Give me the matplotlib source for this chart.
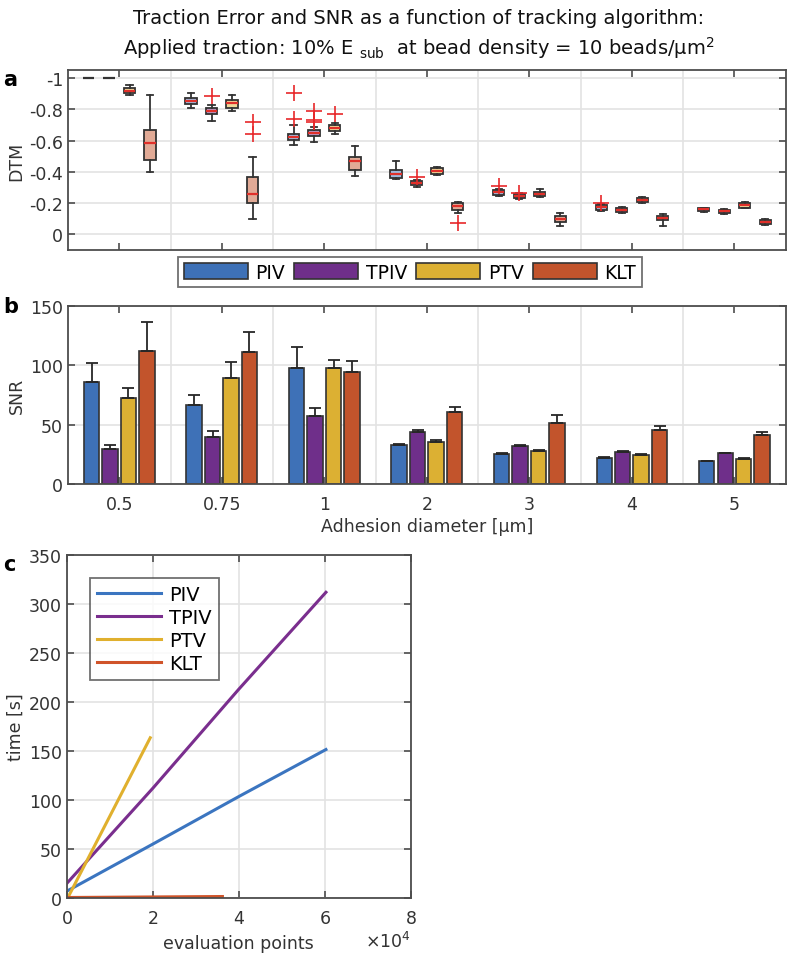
import matplotlib
matplotlib.use('Agg')
import matplotlib.pyplot as plt
import matplotlib.colors as mcolors
from matplotlib.ticker import ScalarFormatter

import numpy as np

plt.rcParams['font.family'] = ['DejaVu Sans']
plt.rcParams['axes.unicode_minus'] = False
plt.rcParams['mathtext.fontset'] = 'dejavusans'

# Algorithms and adhesion sizes
algorithms = ['PIV', 'TPIV', 'PTV', 'KLT']
colors = ['#3e71b7', '#6f2f8a', '#dcb033', '#c2542c']
diameters = ['0.5', '0.75', '1', '2', '3', '4', '5']

# Panel a: DTM box statistics, one row per diameter, columns PIV, TPIV, PTV, KLT
dtm_med = [[-1.0, -1.0, -0.918, -0.583],
           [-0.853, -0.788, -0.842, -0.258],
           [-0.624, -0.650, -0.679, -0.468],
           [-0.385, -0.331, -0.406, -0.182],
           [-0.269, -0.246, -0.261, -0.100],
           [-0.173, -0.158, -0.220, -0.104],
           [-0.160, -0.147, -0.186, -0.081]]
dtm_q1 = [[-1.0, -1.0, -0.935, -0.667],
          [-0.870, -0.806, -0.859, -0.367],
          [-0.643, -0.669, -0.697, -0.496],
          [-0.410, -0.344, -0.425, -0.199],
          [-0.282, -0.261, -0.274, -0.117],
          [-0.186, -0.171, -0.233, -0.117],
          [-0.169, -0.156, -0.199, -0.094]]
dtm_q3 = [[-1.0, -1.0, -0.903, -0.474],
          [-0.835, -0.769, -0.810, -0.203],
          [-0.605, -0.631, -0.660, -0.415],
          [-0.361, -0.314, -0.389, -0.156],
          [-0.254, -0.233, -0.246, -0.081],
          [-0.158, -0.145, -0.207, -0.090],
          [-0.150, -0.137, -0.171, -0.069]]
dtm_lo = [[-1.0, -1.0, -0.955, -0.893],
          [-0.906, -0.825, -0.891, -0.496],
          [-0.697, -0.684, -0.712, -0.566],
          [-0.470, -0.350, -0.434, -0.210],
          [-0.290, -0.263, -0.290, -0.137],
          [-0.195, -0.176, -0.240, -0.133],
          [-0.172, -0.160, -0.205, -0.100]]
dtm_hi = [[-1.0, -1.0, -0.893, -0.400],
          [-0.806, -0.724, -0.788, -0.100],
          [-0.571, -0.594, -0.641, -0.376],
          [-0.353, -0.305, -0.383, -0.139],
          [-0.248, -0.228, -0.239, -0.053],
          [-0.152, -0.140, -0.200, -0.053],
          [-0.146, -0.133, -0.166, -0.062]]
dtm_fliers = [[[], [], [], []],
              [[], [-0.887], [], [-0.716, -0.643]],
              [[-0.902, -0.737], [-0.790, -0.731, -0.716], [-0.769], []],
              [[], [-0.367], [], [-0.075]],
              [[-0.310], [-0.267], [], []],
              [[-0.203], [], [], []],
              [[], [], [], []]]

# Panel b: SNR mean and upper error, columns PIV, TPIV, PTV, KLT
snr_mean = [[85.7, 29.0, 72.6, 111.7],
            [66.7, 39.6, 89.0, 111.1],
            [97.7, 57.2, 97.7, 94.4],
            [32.7, 44.1, 34.9, 60.6],
            [24.8, 31.6, 27.9, 51.1],
            [21.8, 26.8, 24.3, 45.5],
            [19.3, 25.7, 20.9, 41.0]]
snr_err = [[15.9, 4.0, 7.8, 24.5],
           [8.4, 5.1, 14.0, 16.5],
           [17.6, 6.7, 7.0, 9.2],
           [1.3, 1.1, 1.7, 4.2],
           [0.9, 1.3, 0.8, 7.3],
           [0.8, 0.8, 0.8, 3.4],
           [0.3, 0.6, 0.6, 2.8]]

# Panel c: computation time vs number of evaluation points
piv_pts = [0, 20000, 40000, 60300]
piv_time = [7, 55, 103.5, 151.5]
tpiv_pts = [0, 20000, 40000, 60300]
tpiv_time = [15, 112, 213, 312]
ptv_pts = [300, 19400]
ptv_time = [1, 163.5]
klt_pts = [0, 36200]
klt_time = [0.5, 1.5]

TEXT = '#333333'
SPINE = '#4d4d4d'
GRID = '#e3e3e3'
FS = 12.5


def style_axes(ax):
    for sp in ax.spines.values():
        sp.set_color(SPINE)
        sp.set_linewidth(1.3)
    ax.tick_params(which='major', direction='in', length=5, width=1.2,
                   color=SPINE, labelcolor=TEXT, labelsize=FS,
                   top=True, right=True)
    ax.set_axisbelow(True)


def group_axes(ax):
    ax.set_xlim(0.5, 7.5)
    ax.set_xticks(np.arange(1, 8))
    ax.set_xticks(np.arange(1.5, 7.5), minor=True)
    ax.tick_params(which='minor', length=0)
    ax.grid(True, which='minor', axis='x', color=GRID, lw=1.2)
    ax.grid(True, which='major', axis='y', color=GRID, lw=1.2)


def draw_dtm(ax):
    offsets = [-0.3, -0.1, 0.1, 0.3]
    for g in range(len(diameters)):
        stats = []
        for k in range(len(algorithms)):
            stats.append(dict(med=dtm_med[g][k], q1=dtm_q1[g][k],
                              q3=dtm_q3[g][k], whislo=dtm_lo[g][k],
                              whishi=dtm_hi[g][k],
                              fliers=dtm_fliers[g][k]))
        pos = [g + 1 + o for o in offsets]
        art = ax.bxp(stats, positions=pos, widths=0.11, capwidths=0.06,
                     patch_artist=True, manage_ticks=False,
                     boxprops=dict(edgecolor='#333333', lw=1.3),
                     medianprops=dict(color='#e0302a', lw=1.6),
                     whiskerprops=dict(color='#333333', lw=1.3),
                     capprops=dict(color='#333333', lw=1.3),
                     flierprops=dict(marker='+', markeredgecolor='#e8282a',
                                     markersize=12, mew=1.2))
        for box, col in zip(art['boxes'], colors):
            rgb = np.array(mcolors.to_rgb(col))
            box.set_facecolor(0.5 * rgb + 0.5)
        # flat boxes (all values equal) show as dark dashes
        for k, med in enumerate(art['medians']):
            if dtm_q1[g][k] == dtm_q3[g][k]:
                med.set_color('#333333')
    style_axes(ax)
    group_axes(ax)
    ax.set_ylim(0.1, -1.05)
    ax.set_yticks([-1, -0.8, -0.6, -0.4, -0.2, 0])
    ax.set_yticklabels(['-1', '-0.8', '-0.6', '-0.4', '-0.2', '0'])
    ax.set_xticklabels([])
    ax.set_ylabel('DTM', fontsize=FS, color=TEXT, labelpad=3)


def draw_snr(ax):
    offsets = [-0.27, -0.09, 0.09, 0.27]
    x = np.arange(1, len(diameters) + 1)
    mean = np.array(snr_mean)
    err = np.array(snr_err)
    handles = []
    for k, (name, col) in enumerate(zip(algorithms, colors)):
        h = ax.bar(x + offsets[k], mean[:, k], width=0.15, color=col,
                   edgecolor='#333333', lw=1.2, label=name, zorder=2)
        ax.errorbar(x + offsets[k], mean[:, k],
                    yerr=[np.zeros(len(x)), err[:, k]], fmt='none',
                    ecolor='#262626', elinewidth=1.3, capsize=4,
                    capthick=1.3, zorder=3)
        handles.append(h)
    style_axes(ax)
    group_axes(ax)
    ax.set_ylim(0, 150)
    ax.set_yticks([0, 50, 100, 150])
    ax.set_xticklabels(diameters)
    ax.tick_params(axis='x', pad=8)
    ax.set_ylabel('SNR', fontsize=FS, color=TEXT, labelpad=3)
    ax.set_xlabel('Adhesion diameter [μm]', fontsize=FS, color=TEXT,
                  labelpad=3)
    return handles


def draw_time(ax):
    ax.plot(piv_pts, piv_time, color='#3b75c0', lw=2.2, label='PIV')
    ax.plot(tpiv_pts, tpiv_time, color='#7a2e8e', lw=2.2, label='TPIV')
    ax.plot(ptv_pts, ptv_time, color='#e0b02e', lw=2.2, label='PTV')
    ax.plot(klt_pts, klt_time, color='#d0542a', lw=2.2, label='KLT')
    style_axes(ax)
    ax.set_xlim(0, 80000)
    ax.set_ylim(0, 350)
    ax.set_xticks([0, 20000, 40000, 60000, 80000])
    ax.set_yticks(np.arange(0, 351, 50))
    fmt = ScalarFormatter(useMathText=True)
    fmt.set_powerlimits((0, 0))
    ax.xaxis.set_major_formatter(fmt)
    ax.xaxis.get_offset_text().set_fontsize(FS)
    ax.xaxis.get_offset_text().set_color(TEXT)
    ax.tick_params(axis='x', pad=8)
    ax.grid(True, color=GRID, lw=1.2)
    ax.set_xlabel('evaluation points', fontsize=FS, color=TEXT, labelpad=5)
    ax.set_ylabel('time [s]', fontsize=FS, color=TEXT, labelpad=3)
    leg = ax.legend(loc='upper left', bbox_to_anchor=(0.04, 0.96),
                    fontsize=14, handlelength=3.3, frameon=True,
                    fancybox=False, borderpad=0.35, labelspacing=0.2,
                    handletextpad=0.4)
    leg.get_frame().set_edgecolor(SPINE)
    leg.get_frame().set_linewidth(1.3)


def gen_plot():
    fig = plt.figure(figsize=(7.87, 9.62), dpi=100)
    ax_a = fig.add_axes([0.0864, 0.739, 0.912, 0.187])
    ax_b = fig.add_axes([0.0864, 0.496, 0.912, 0.185])
    ax_c = fig.add_axes([0.085, 0.0655, 0.4367, 0.3565])

    draw_dtm(ax_a)
    handles = draw_snr(ax_b)
    draw_time(ax_c)

    leg = fig.legend(handles, algorithms, loc='center', ncol=4,
                     bbox_to_anchor=(0.521, 0.716), fontsize=13.5,
                     handlelength=3.4, handleheight=0.9, handletextpad=0.4,
                     columnspacing=0.5, frameon=True, fancybox=False,
                     borderpad=0.3)
    leg.get_frame().set_edgecolor(SPINE)
    leg.get_frame().set_linewidth(1.3)

    fig.text(0.532, 0.981, 'Traction Error and SNR as a function of '
             'tracking algorithm:', ha='center', va='center', fontsize=14,
             color='#111111')
    fig.text(0.532, 0.950, 'Applied traction: 10% E $_{\\mathrm{sub}}$  at '
             'bead density = 10 beads/μm$^{2}$', ha='center', va='center',
             fontsize=14, color='#111111')

    for lab, yy in zip(['a', 'b', 'c'], [0.917, 0.681, 0.413]):
        fig.text(0.004, yy, lab, fontsize=15, fontweight='bold',
                 ha='left', va='center')

    fig.savefig('out.png', dpi=100)


if __name__ == '__main__':
    gen_plot()
